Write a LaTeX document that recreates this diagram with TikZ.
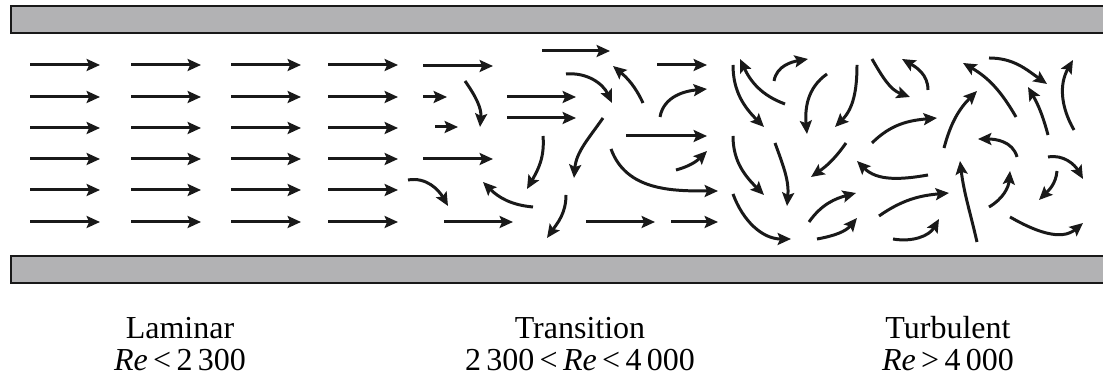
\documentclass[tikz,border=0pt]{standalone}
\usepackage{fontspec}
\setmainfont{Liberation Serif}
\usetikzlibrary{arrows.meta}
\definecolor{wallfill}{RGB}{178,178,180}
\definecolor{ink}{RGB}{25,25,25}
\begin{document}
\begin{tikzpicture}[x=0.01cm,y=0.01cm,
  flow/.style={draw=ink,line width=0.85pt,-{Stealth[length=3.8pt,width=3.4pt,inset=0.7pt]}},
  wallrim/.style={draw=ink,line width=0.75pt},
  regime/.style={font=\fontsize{9.1}{11}\selectfont,anchor=base,inner sep=0pt}]
\useasboundingbox[fill=white] (0,0) rectangle (1103,-380);

% pipe walls
\fill[wallfill] (11,-6) rectangle (1103,-33);
\draw[wallrim] (1103,-6) -- (11,-6) -- (11,-33) -- (1103,-33);
\fill[wallfill] (11,-256) rectangle (1103,-283);
\draw[wallrim] (1103,-256) -- (11,-256) -- (11,-283) -- (1103,-283);

% laminar region: parallel streamlines
\foreach \yy in {65,97,128,159,190,222}{
  \foreach \xa/\xb in {30/100,131/201,231/301,328/398}{
    \draw[flow] (\xa,-\yy) -- (\xb,-\yy);
  }
}

% transition region
\draw[flow] (423,-66) -- (493,-66);
\draw[flow] (423,-97) -- (447,-97);
\draw[flow] (435,-127) -- (458,-127);
\draw[flow] (423,-159) -- (493,-159);
\draw[flow] (444,-222) -- (513,-222);
\draw[flow] (465,-81) to[out=-55,in=85] (480,-127);
\draw[flow] (408,-180) to[out=10,in=120] (448,-206);
\draw[flow] (507,-97) -- (576,-97);
\draw[flow] (507,-118) -- (576,-118);
\draw[flow] (543,-136) to[out=-85,in=60] (527,-189);
\draw[flow] (533,-207) to[out=175,in=-45] (483,-182);
\draw[flow] (566,-195) to[out=-90,in=55] (547,-238);
\draw[flow] (542,-51) -- (610,-51);
\draw[flow] (566,-74) to[out=5,in=115] (612,-103);
\draw[flow] (643,-103) to[out=115,in=-40] (613,-66);
\draw[flow] (657,-65) -- (707,-65);
\draw[flow] (660,-117) to[out=80,in=185] (707,-89);
\draw[flow] (603,-118) to[out=-125,in=85] (574,-178);
\draw[flow] (626,-136) -- (707,-136);
\draw[flow] (676,-170) to[out=15,in=225] (707,-151);
\draw[flow] (611,-149) to[out=-70,in=180] (718,-191);
\draw[flow] (586,-222) -- (655,-222);
\draw[flow] (671,-222) -- (718,-222);

% turbulent region: eddies
\draw[flow] (733,-65) to[out=-90,in=135] (764,-127);
\draw[flow] (785,-104) to[out=160,in=-65] (740,-59);
\draw[flow] (774,-81) to[out=80,in=190] (808,-59);
\draw[flow] (827,-74) to[out=-145,in=95] (807,-134);
\draw[flow] (857,-65) to[out=-90,in=45] (835,-127);
\draw[flow] (872,-59) to[out=-60,in=160] (910,-97);
\draw[flow] (928,-90) to[out=90,in=-30] (902,-59);
\draw[flow] (733,-136) to[out=-90,in=135] (764,-195);
\draw[flow] (775,-143) to[out=-70,in=85] (787,-206);
\draw[flow] (846,-143) to[out=-125,in=35] (811,-177);
\draw[flow] (872,-143) to[out=45,in=185] (937,-118);
\draw[flow] (928,-175) to[out=-170,in=-45] (857,-161);
\draw[flow] (733,-194) to[out=-70,in=180] (791,-239);
\draw[flow] (809,-222) to[out=55,in=195] (856,-193);
\draw[flow] (817,-239) to[out=10,in=230] (857,-218);
\draw[flow] (879,-216) to[out=35,in=185] (949,-193);
\draw[flow] (893,-239) to[out=-10,in=240] (939,-219);
\draw[flow] (944,-148) to[out=75,in=225] (977,-91);
\draw[flow] (1016,-117) to[out=120,in=-30] (963,-63);
\draw[flow] (989,-58) to[out=0,in=145] (1047,-84);
\draw[flow] (1048,-135) to[out=105,in=-60] (1028,-87);
\draw[flow] (1074,-130) to[out=120,in=240] (1073,-60);
\draw[flow] (1017,-157) to[out=105,in=0] (978,-139);
\draw[flow] (977,-242) to[out=103,in=-83] (960,-161);
\draw[flow] (989,-207) to[out=30,in=265] (1010,-171);
\draw[flow] (1048,-157) to[out=10,in=120] (1083,-179);
\draw[flow] (1057,-171) to[out=-95,in=45] (1039,-200);
\draw[flow] (1010,-217) to[out=-30,in=220] (1083,-223);

% regime labels
\node[regime] (lamname) at (180,-339) {Laminar};
\node[regime] (lamre)   at (180,-371) {\textit{Re}\,<\,2\,300};
\node[regime] (trname)  at (580,-339) {Transition};
\node[regime] (trre)    at (580,-371) {2\,300\,<\,\textit{Re}\,<\,4\,000};
\node[regime] (tuname)  at (948,-339) {Turbulent};
\node[regime] (ture)    at (948,-371) {\textit{Re}\,>\,4\,000};
\end{tikzpicture}
\end{document}
